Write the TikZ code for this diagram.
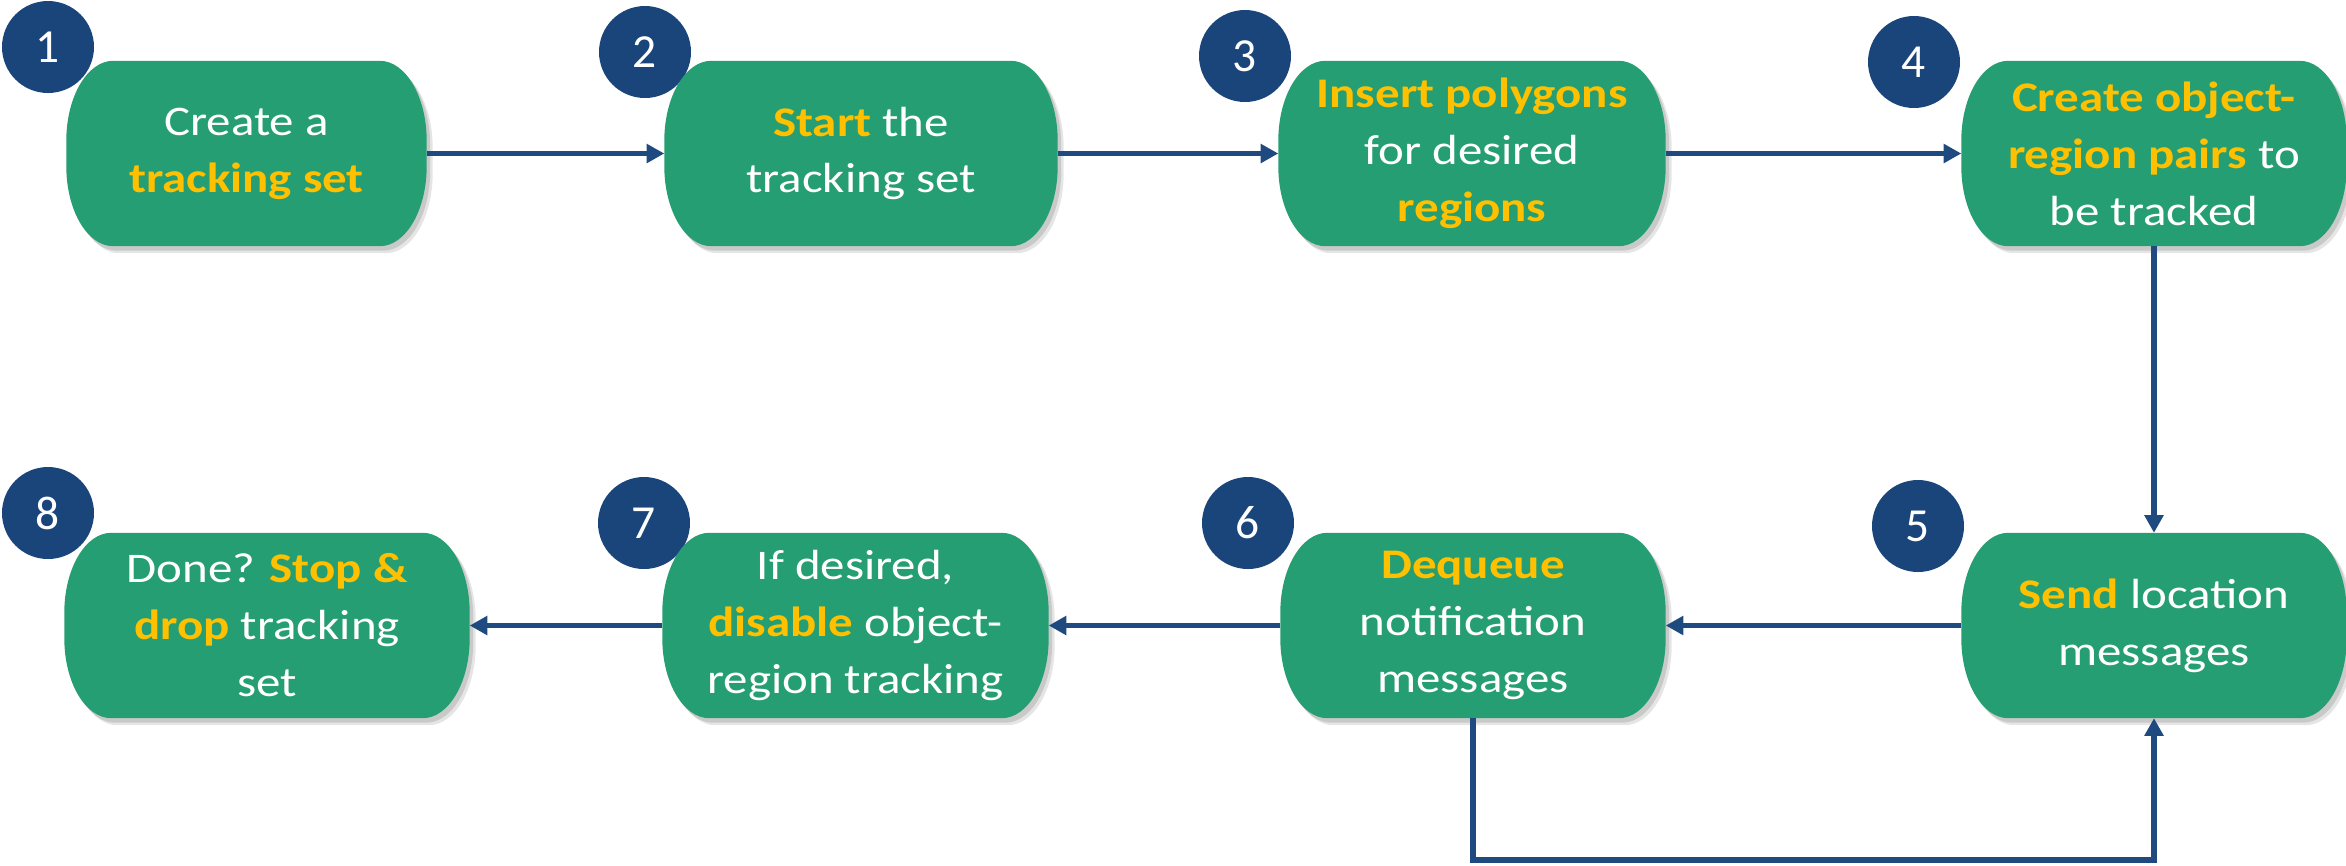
\documentclass[tikz,border=0pt]{standalone}
\usepackage{fontspec}
\setmainfont{Carlito}[FakeStretch=1.16]
\newfontfamily\numfont{Carlito}
\usetikzlibrary{arrows.meta,calc}
\definecolor{boxg}{RGB}{37,158,115}
\definecolor{navy}{RGB}{26,69,122}
\definecolor{arrc}{RGB}{30,74,128}
\definecolor{hly}{RGB}{255,192,0}
\newcommand{\hl}[1]{{\bfseries\color{hly}#1}}
\newcommand{\pillpath}[1]{let \p1=(#1.south west), \p2=(#1.north east) in
  (\x1+0.47cm,\y2) -- (\x2-0.47cm,\y2)
  arc[start angle=90,end angle=0,x radius=0.47cm,y radius=0.8cm]
  -- (\x2,\y1+0.8cm)
  arc[start angle=0,end angle=-90,x radius=0.47cm,y radius=0.8cm]
  -- (\x1+0.47cm,\y1)
  arc[start angle=270,end angle=180,x radius=0.47cm,y radius=0.8cm]
  -- (\x1,\y2-0.8cm)
  arc[start angle=180,end angle=90,x radius=0.47cm,y radius=0.8cm] -- cycle}
\newcommand{\pill}[1]{%
  \fill[black,opacity=0.10,transform canvas={shift={(0.06,-0.07)}}] \pillpath{#1};
  \fill[black,opacity=0.12,transform canvas={shift={(0.035,-0.045)}}] \pillpath{#1};
  \fill[boxg] \pillpath{#1};}
\pgfdeclarelayer{bg}
\pgfsetlayers{bg,main}
\begin{document}
\begin{tikzpicture}[
  stepbox/.style={rectangle, inner sep=0pt, align=center, text=white,
    minimum height=1.84cm, font=\fontsize{12}{16.2}\selectfont},
  numc/.style={circle, fill=navy, minimum size=0.92cm, inner sep=0pt, text=white,
    font=\numfont\fontsize{13.5}{16}\selectfont},
  arr/.style={draw=arrc, line width=1.5pt, -{Triangle[length=5pt,width=5.2pt]}}]
\useasboundingbox (0,0) rectangle (23.46,-8.65);
% step boxes
\node[stepbox, minimum width=3.59cm] (n1) at (2.465,-1.535) {Create a\\\hl{tracking set}};
\node[stepbox, minimum width=3.92cm] (n2) at (8.61,-1.535) {\hl{Start} the\\tracking set};
\node[stepbox, minimum width=3.86cm] (n3) at (14.72,-1.535) {\hl{Insert polygons}\\for desired\\\hl{regions}};
\node[stepbox, minimum width=3.84cm] (n4) at (21.54,-1.535) {\hl{Create object-}\\\hl{region pairs} to\\be tracked};
\node[stepbox, minimum width=3.84cm] (n5) at (21.54,-6.255) {\hl{Send} location\\messages};
\node[stepbox, minimum width=3.84cm] (n6) at (14.73,-6.255) {\hl{Dequeue}\\notification\\messages};
\node[stepbox, minimum width=3.85cm] (n7) at (8.555,-6.255) {If desired,\\\hl{disable} object-\\region tracking};
\node[stepbox, minimum width=4.04cm] (n8) at (2.67,-6.255) {Done? \hl{Stop \&}\\\hl{drop} tracking\\set};
\begin{pgfonlayer}{bg}
  \node[numc] (c1) at (0.48,-0.47) {1};
  \node[numc] (c2) at (6.45,-0.52) {2};
  \node[numc] (c3) at (12.45,-0.56) {3};
  \node[numc] (c4) at (19.14,-0.62) {4};
  \node[numc] (c5) at (19.18,-5.26) {5};
  \node[numc] (c6) at (12.48,-5.23) {6};
  \node[numc] (c7) at (6.44,-5.23) {7};
  \node[numc] (c8) at (0.48,-5.13) {8};
  \pill{n1}\pill{n2}\pill{n3}\pill{n4}
  \pill{n5}\pill{n6}\pill{n7}\pill{n8}
\end{pgfonlayer}
% connectors
\draw[arr] (n1.east) -- (n2.west);
\draw[arr] (n2.east) -- (n3.west);
\draw[arr] (n3.east) -- (n4.west);
\draw[arr] (n4.south) -- (n5.north);
\draw[arr] (n5.west) -- (n6.east);
\draw[arr] (n6.west) -- (n7.east);
\draw[arr] (n7.west) -- (n8.east);
\coordinate (lp) at (14.73,-8.60);
\draw[arr] (n6.south) -- (lp) -| (n5.south);
\end{tikzpicture}
\end{document}
